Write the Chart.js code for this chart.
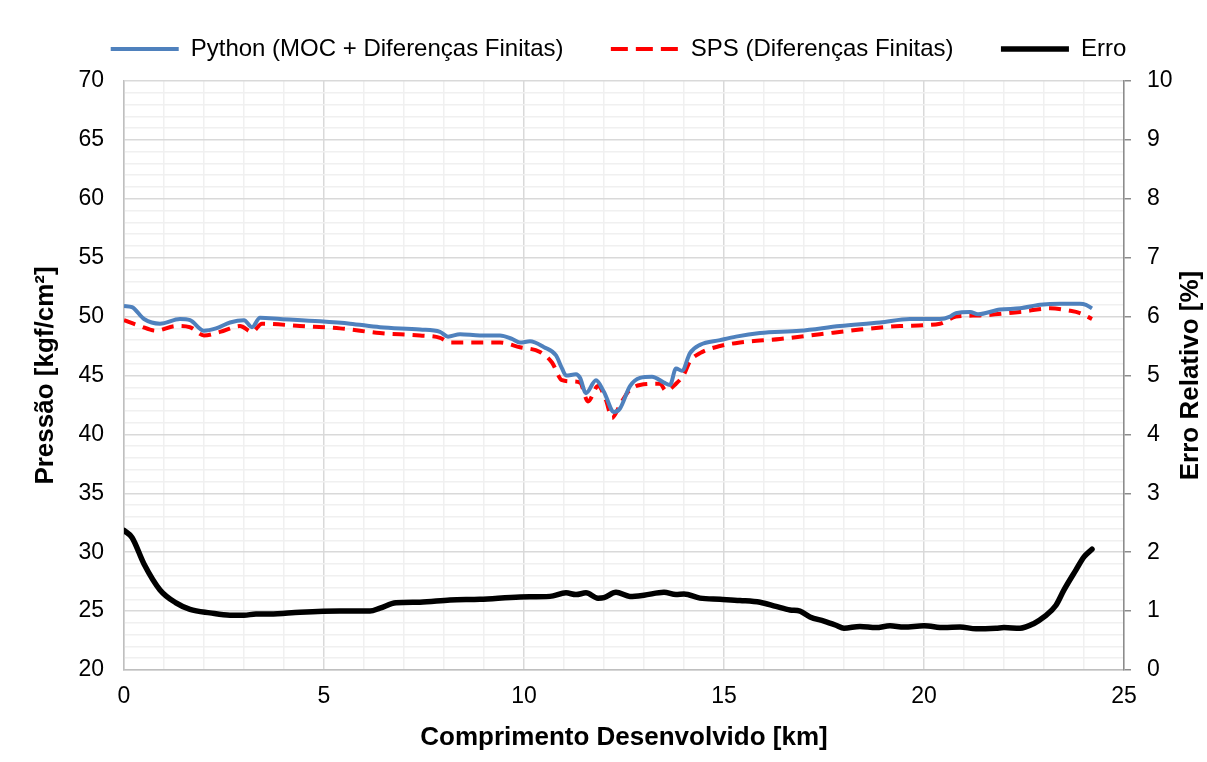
<!DOCTYPE html>
<html>
<head>
<meta charset="utf-8">
<script src="https://cdn.jsdelivr.net/npm/chart.js@4"></script>
<style>
html,body{margin:0;padding:0;background:#fff;}
#wrap{width:1207px;height:762px;position:relative;}
</style>
</head>
<body>
<div id="wrap"><canvas id="c" width="1207" height="762"></canvas></div>
<script>
// ---- Data ----
const pythonKm = [0,0.2,0.5,0.9,1.4,1.65,2.0,2.3,2.65,3.0,3.2,3.4,3.9,4.9,5.65,6.4,7.4,7.9,8.1,8.4,8.9,9.4,9.7,9.9,10.15,10.5,10.8,10.95,11.05,11.3,11.4,11.55,11.8,12.0,12.25,12.4,12.65,12.9,13.2,13.5,13.65,13.8,13.95,14.15,14.4,14.9,15.3,15.9,16.9,17.9,18.9,19.65,20.4,20.65,20.8,21.15,21.35,21.9,22.4,22.9,23.4,23.9,24.05,24.2];
const pythonP  = [50.9,50.8,49.8,49.4,49.8,49.7,48.8,49.0,49.5,49.7,49.1,49.9,49.8,49.6,49.4,49.1,48.9,48.7,48.3,48.5,48.4,48.4,48.1,47.8,47.9,47.4,46.7,45.6,45.0,45.1,44.8,43.5,44.6,43.6,41.9,42.2,44.1,44.8,44.9,44.4,44.2,45.6,45.4,46.9,47.6,48.0,48.3,48.6,48.8,49.2,49.5,49.8,49.8,50.0,50.3,50.4,50.2,50.6,50.7,51.0,51.1,51.1,51.0,50.7];

const spsKm = [0,0.4,0.8,1.3,1.65,2.0,2.4,2.9,3.2,3.45,4.4,5.4,6.4,7.4,7.9,8.15,8.9,9.4,9.9,10.4,10.7,10.95,11.2,11.4,11.6,11.85,12.05,12.2,12.4,12.6,12.9,13.4,13.55,13.8,14.0,14.15,14.4,14.9,15.4,16.4,17.4,18.4,19.4,20.4,20.8,21.4,22.4,23.15,23.65,23.9,24.2];
const spsP  = [49.7,49.2,48.8,49.2,49.1,48.4,48.7,49.2,48.7,49.4,49.2,49.0,48.6,48.4,48.2,47.8,47.8,47.8,47.4,47.0,46.1,44.6,44.5,44.4,42.8,44.1,42.9,41.4,42.5,43.6,44.2,44.3,43.7,44.3,45.1,46.2,46.9,47.5,47.8,48.1,48.5,48.9,49.2,49.4,50.0,50.1,50.4,50.7,50.5,50.3,49.8];

const erroKm = [0,0.2,0.5,0.9,1.3,1.65,2.15,2.65,3.0,3.3,3.65,4.4,5.4,6.15,6.4,6.8,7.4,8.15,8.9,9.9,10.65,11.05,11.3,11.55,11.85,12.0,12.3,12.65,13.0,13.5,13.8,14.0,14.4,14.9,15.4,15.9,16.3,16.65,16.9,17.15,17.5,17.8,18.0,18.4,18.8,19.15,19.5,20.0,20.5,20.9,21.3,21.8,22.0,22.4,22.75,23.0,23.3,23.5,23.8,24.0,24.2];
const erroPct = [2.37,2.25,1.8,1.36,1.14,1.03,0.97,0.93,0.93,0.95,0.95,0.98,1.0,1.0,1.05,1.14,1.15,1.19,1.2,1.24,1.25,1.31,1.28,1.31,1.22,1.23,1.32,1.25,1.27,1.32,1.28,1.29,1.22,1.2,1.18,1.15,1.08,1.02,1.0,0.9,0.83,0.76,0.71,0.74,0.72,0.75,0.73,0.75,0.72,0.73,0.7,0.71,0.72,0.71,0.79,0.9,1.1,1.36,1.7,1.92,2.05];

const seriesNames = ["Python (MOC + Diferenças Finitas)", "SPS (Diferenças Finitas)", "Erro"];
const xTitle = "Comprimento Desenvolvido [km]";
const yLeftTitle = "Pressão [kgf/cm²]";
const yRightTitle = "Erro Relativo [%]";
const xTickLabels = [0,5,10,15,20,25];
const yLeftTickLabels = [20,25,30,35,40,45,50,55,60,65,70];
const yRightTickLabels = [0,1,2,3,4,5,6,7,8,9,10];

function pts(xs, ys){ return xs.map((x,i)=>({x:x, y:ys[i]})); }

const FONT = "'Liberation Sans', Arial, sans-serif";
const MAJOR = '#d9d9d9', MINOR = '#f0f0f0';
const TITLE_FONT = { family: FONT, size: 26, weight: 'bold' };

// extra space between legend and plot area
const legendGap = {
  id: 'legendGap',
  beforeLayout(chart) {
    const lg = chart.legend;
    if (lg && !lg._gapPatched) {
      const f = lg.fit;
      lg.fit = function(){ f.call(this); this.height += 10; };
      lg._gapPatched = true;
    }
  }
};

// right axis title reading bottom-to-top (like the reference)
const rightTitle = {
  id: 'rightTitle',
  afterDraw(chart) {
    const ca = chart.chartArea, ctx = chart.ctx;
    ctx.save();
    ctx.translate(1191, (ca.top + ca.bottom) / 2);
    ctx.rotate(-Math.PI / 2);
    ctx.font = "bold 26px " + FONT;
    ctx.fillStyle = '#000';
    ctx.textAlign = 'center';
    ctx.textBaseline = 'middle';
    ctx.fillText(yRightTitle, 0, 0);
    ctx.restore();
  }
};

new Chart(document.getElementById('c'), {
  type: 'line',
  data: {
    datasets: [
      { label: seriesNames[0], data: pts(pythonKm, pythonP), yAxisID: 'y',
        borderColor: '#4f81bd', backgroundColor: '#4f81bd', borderWidth: 4,
        pointRadius: 0, cubicInterpolationMode: 'monotone' },
      { label: seriesNames[1], data: pts(spsKm, spsP), yAxisID: 'y',
        borderColor: '#ff0000', backgroundColor: '#ff0000', borderWidth: 4,
        borderDash: [12, 8], pointRadius: 0, cubicInterpolationMode: 'monotone' },
      { label: seriesNames[2], data: pts(erroKm, erroPct), yAxisID: 'y2',
        borderColor: '#000000', backgroundColor: '#000000', borderWidth: 5.5,
        pointRadius: 0, cubicInterpolationMode: 'monotone', borderCapStyle: 'round' }
    ]
  },
  plugins: [legendGap, rightTitle],
  options: {
    responsive: false,
    animation: false,
    layout: { padding: { top: 23, left: 30, right: 0, bottom: 0 } },
    plugins: {
      legend: {
        position: 'top',
        labels: {
          usePointStyle: true, pointStyle: 'line', pointStyleWidth: 68,
          color: '#000', padding: 14,
          font: { family: FONT, size: 24 },
          generateLabels(chart) {
            const items = Chart.defaults.plugins.legend.labels.generateLabels(chart);
            items.forEach((it, i) => {
              it.pointStyle = 'line';
              if (i < 2) it.text = it.text + '     ';
              if (i === 1) it.lineDash = [17, 8];
            });
            return items;
          }
        }
      },
      tooltip: { enabled: false }
    },
    scales: {
      x: {
        type: 'linear', min: 0, max: 25,
        afterFit(s){ s.height = 92; },
        ticks: { stepSize: 1, autoSkip: false, maxRotation: 0, color: '#000', padding: 13,
          font: { family: FONT, size: 23 },
          callback: v => xTickLabels.includes(v) ? String(v) : '' },
        grid: { color: c => (c.tick && c.tick.value % 5 === 0) ? MAJOR : MINOR, lineWidth: 1.5, drawTicks: false },
        border: { color: '#bfbfbf', width: 1.5 },
        title: { display: true, text: xTitle, color: '#000', font: TITLE_FONT, padding: { top: 0, bottom: 9 } }
      },
      y: {
        position: 'left', min: 20, max: 70,
        afterFit(s){ s.width = 94; },
        ticks: { stepSize: 1, autoSkip: false, color: '#000', padding: 20,
          font: { family: FONT, size: 23 },
          callback: v => yLeftTickLabels.includes(v) ? String(v) : '' },
        grid: { color: c => (c.tick && c.tick.value % 5 === 0) ? MAJOR : MINOR, lineWidth: 1.5, drawTicks: false },
        border: { color: '#bfbfbf', width: 1.5 },
        title: { display: true, text: yLeftTitle, color: '#000', font: TITLE_FONT, padding: 0 }
      },
      y2: {
        position: 'right', min: 0, max: 10,
        afterFit(s){ s.width = 83; },
        ticks: { stepSize: 1, color: '#000', padding: 16,
          font: { family: FONT, size: 23 },
          callback: v => yRightTickLabels.includes(v) ? String(v) : '' },
        grid: { drawOnChartArea: false, drawTicks: true, tickLength: 7, color: '#8c8c8c', lineWidth: 1.5 },
        border: { color: '#8c8c8c', width: 1.5 },
        title: { display: false, text: yRightTitle }
      }
    }
  }
});
</script>
</body>
</html>
